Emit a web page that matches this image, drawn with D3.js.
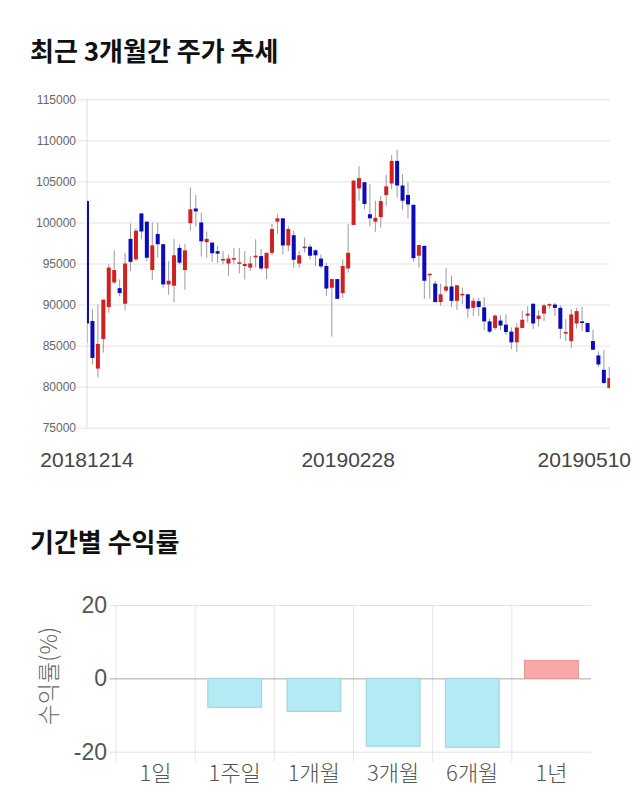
<!DOCTYPE html>
<html><head><meta charset="utf-8">
<script src="https://cdn.jsdelivr.net/npm/d3@7"></script>
<style>
body{margin:0;background:#fff;}
svg{display:block;font-family:"Liberation Sans",Arial,sans-serif;}
</style>
</head><body>
<svg id="c" width="640" height="810"></svg>
<script>
// ---- Candlestick data (97 trading days, 20181214 .. 20190510) ----
const opens  = [102600,88000,82200,85800,89700,92700,92000,90100,98000,95500,101100,100100,94200,98600,97350,92450,92300,96900,94200,99900,101700,100000,97600,97550,96500,95450,95000,95550,95050,94700,94500,95750,95900,94400,96300,100100,100500,97200,98450,95000,96950,97050,96600,95600,94700,92050,93100,91400,94400,99700,104150,104900,101000,100100,100650,103350,104750,107500,104500,103350,102150,95950,97150,93650,92550,90300,91700,92200,90450,91200,91250,89600,90400,89650,87950,87150,88050,87550,86700,85400,87150,88650,90100,88250,88900,89950,90000,89600,86600,85550,87700,87950,87750,85550,83800,82050,79850];
const highs  = [102700,89400,90000,90600,94900,96600,93060,96300,99900,99300,101100,100100,100000,99950,97350,95300,98000,97350,97350,104300,103350,101200,98900,97550,97150,96500,96100,96900,96900,96500,95900,97950,96750,96300,99800,101000,100500,99500,99000,96500,98150,97350,96750,96100,95100,93100,93100,95500,99800,105100,106850,104900,104700,102650,103250,105800,108200,108850,105900,104900,102150,97250,97150,93800,92900,92550,94450,93550,92350,92050,91250,90800,90800,90900,88300,88800,88700,88800,87200,87750,89250,89800,90100,89300,90100,90150,90200,89900,88250,89450,89600,89700,87800,86950,84300,84450,82400];
const lows   = [85300,82700,81150,84150,89000,92500,91000,89300,94100,95300,98000,95300,93000,95700,92000,91200,90300,94900,91800,99000,99500,95850,95700,95200,95100,94900,93500,94900,93800,93050,94100,94500,94200,93100,96000,98600,96100,96500,94500,94500,96350,95500,94700,94400,91050,86100,90650,90850,93900,99700,102650,101600,99500,98850,99400,102050,104050,103050,101550,100500,95200,94500,90700,90700,90300,89850,91450,89700,89350,90050,88400,88600,88600,86900,86500,86900,86900,86300,84600,84200,87100,87850,87000,87300,88000,89500,88600,85800,85550,84700,87100,86750,86600,84450,82400,80350,79700];
const closes = [87700,83500,85200,90600,94500,94200,91400,95000,95200,99000,98900,95700,97200,97350,92450,92900,96000,95100,96600,101600,101350,97700,98000,96250,96200,95550,95600,95650,95150,94950,95000,95950,94400,96300,99200,100500,97200,99200,95450,96000,97050,95950,96000,94650,91950,93100,90700,94700,96300,105100,105400,102250,100500,100550,102600,104400,107500,104500,102650,102200,95650,97250,92900,93750,90300,91250,92200,90450,92350,91300,89500,90450,89700,87950,86700,88650,87450,86650,85400,87200,88150,88900,87700,88650,89900,90050,89600,87050,86650,88800,89200,87750,86650,84500,82700,80450,81050];
const priceTicks = [75000,80000,85000,90000,95000,100000,105000,110000,115000];
const dateLabels = ["20181214","20190228","20190510"];
const dateLabelIndex = [0,48,96];

// ---- Period returns ----
const periods = ["1일","1주일","1개월","3개월","6개월","1년"];
const returns = [0,-7.9,-9.0,-18.5,-18.8,4.9];
const returnTicks = [-20,0,20];

const svg = d3.select("#c");

// Titles
svg.append("text").attr("x",30).attr("y",61).text("최근 3개월간 주가 추세")
  .attr("font-family","'Noto Sans CJK KR',sans-serif").attr("font-weight","bold")
  .attr("font-size",26).attr("fill","#111");
svg.append("text").attr("x",30).attr("y",552).text("기간별 수익률")
  .attr("font-family","'Noto Sans CJK KR',sans-serif").attr("font-weight","bold")
  .attr("font-size",26).attr("fill","#111");

// ---- Candlestick chart ----
const n = opens.length;
const pL = 87, pR = 610, pT = 99.3, pB = 427.7;
const x = d3.scaleLinear().domain([0, n-1]).range([pL, 609.3]);
const y = d3.scaleLinear().domain([75000,115000]).range([pB, pT]);

const yAx = svg.append("g").attr("transform","translate(77,0)")
  .call(d3.axisLeft(y).tickValues(priceTicks).tickSizeInner(-(pR-77)).tickSizeOuter(0)
        .tickPadding(1).tickFormat(d3.format("d")));
yAx.select(".domain").remove();
yAx.selectAll("line").attr("stroke","#e3e3e3");
yAx.selectAll("text").attr("fill","#666").attr("font-size",12);

svg.append("line").attr("x1",pL).attr("x2",pL).attr("y1",pT).attr("y2",pB)
  .attr("stroke","#dcdcdc");

svg.append("defs").append("clipPath").attr("id","clip")
  .append("rect").attr("x",pL).attr("y",80).attr("width",pR-pL).attr("height",370);

const cg = svg.append("g").attr("clip-path","url(#clip)");
const idx = d3.range(n);
cg.selectAll("line.w").data(idx).join("line").attr("class","w")
  .attr("x1",i=>x(i)).attr("x2",i=>x(i))
  .attr("y1",i=>y(highs[i])).attr("y2",i=>y(lows[i]))
  .attr("stroke","#9a9a9a").attr("stroke-width",1);
cg.selectAll("rect.b").data(idx).join("rect").attr("class","b")
  .attr("x",i=>x(i)-2).attr("width",4)
  .attr("y",i=>y(Math.max(opens[i],closes[i])))
  .attr("height",i=>Math.max(1.5, Math.abs(y(opens[i])-y(closes[i]))))
  .attr("fill",i=>closes[i]>=opens[i] ? "#d0201f" : "#0b0bbb");

// date labels
const dl = svg.append("g");
dateLabelIndex.forEach((di,k)=>{
  const t = dl.append("text").attr("x",x(di)).attr("y",467).attr("text-anchor","middle")
    .attr("font-size",21).attr("fill","#444").text(dateLabels[k]);
  const bb = t.node().getBBox();
  if (bb.x + bb.width > 631) t.attr("x", x(di) - (bb.x + bb.width - 631));
});

// ---- Bar chart ----
const bL = 116, bR = 591;
const xb = d3.scaleBand().domain(periods).range([bL,bR]).paddingInner(0).paddingOuter(0);
const yb = d3.scaleLinear().domain([-20,20]).range([751.7,605]);

// vertical grid lines
svg.append("g").selectAll("line").data(periods).join("line")
  .attr("x1",d=>xb(d)).attr("x2",d=>xb(d)).attr("y1",605).attr("y2",762)
  .attr("stroke","#e6e6e6");

const ybAx = svg.append("g").attr("transform",`translate(${bL-6},0)`)
  .call(d3.axisLeft(yb).tickValues(returnTicks).tickSizeInner(-(bR-bL+6)).tickSizeOuter(0)
        .tickPadding(3).tickFormat(d=>String(d)));
ybAx.select(".domain").remove();
ybAx.selectAll("line").attr("stroke",d=>d===0?"#a8a8a8":"#e3e3e3");
ybAx.selectAll("text").attr("fill","#555").attr("font-size",23);

const bw = xb.bandwidth()*0.68;
svg.append("g").selectAll("rect").data(periods).join("rect")
  .attr("x",d=>xb(d)+(xb.bandwidth()-bw)/2).attr("width",bw)
  .attr("y",(d,i)=>yb(Math.max(0,returns[i])))
  .attr("height",(d,i)=>Math.abs(yb(returns[i])-yb(0)))
  .attr("fill",(d,i)=>returns[i]>=0?"#f8a8a8":"#b3eaf3")
  .attr("stroke",(d,i)=>returns[i]>=0?"#e59393":"#98d3de")
  .attr("stroke-width",1)
  .attr("display",(d,i)=>returns[i]===0?"none":null);

svg.append("g").selectAll("text").data(periods).join("text")
  .attr("x",d=>xb(d)+xb.bandwidth()/2).attr("y",781).attr("text-anchor","middle")
  .attr("font-family","'Noto Sans CJK KR',sans-serif").attr("font-weight",300)
  .attr("font-size",22).attr("fill","#555").text(d=>d);

svg.append("text").attr("transform","translate(57,676) rotate(-90)")
  .attr("text-anchor","middle").attr("font-family","'Noto Sans CJK KR',sans-serif")
  .attr("font-weight",300)
  .attr("font-size",23).attr("fill","#666").text("수익률(%)");
</script>
</body></html>
